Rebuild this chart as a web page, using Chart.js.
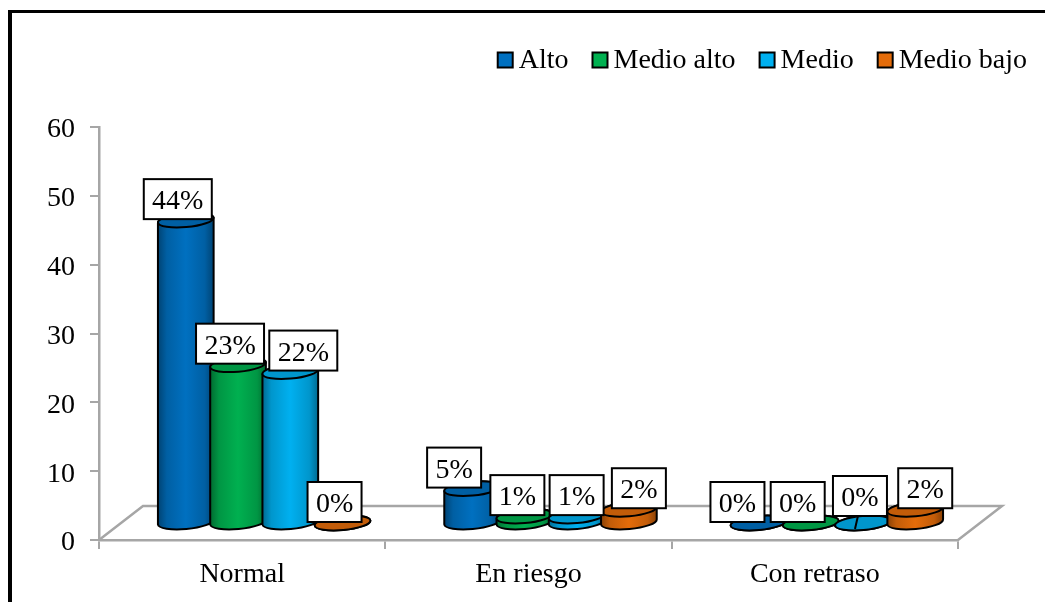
<!DOCTYPE html>
<html lang="es">
<head>
<meta charset="utf-8">
<title>Normal, En riesgo, Con retraso</title>
<script src="https://cdn.jsdelivr.net/npm/chart.js@4"></script>
<style>
  html, body { margin: 0; padding: 0; background: #fff; overflow: hidden; }
  #frame { position: absolute; left: 8px; top: 10px; right: 0; bottom: 0; border-top: 3px solid #000; border-left: 4px solid #000; }
  #chart { position: absolute; left: 0; top: 0; display: block; }
</style>
</head>
<body>
<div id="frame"></div>
<canvas id="chart" width="1045" height="602"></canvas>
<script>
const categories = ["Normal", "En riesgo", "Con retraso"];
const seriesNames = ["Alto", "Medio alto", "Medio", "Medio bajo"];
const alto = [44, 5, 0];
const medioAlto = [23, 1, 0];
const medio = [22, 1, 0];
const medioBajo = [0, 2, 2];
const yTicks = [0, 10, 20, 30, 40, 50, 60];
const colors = ["#0070C0", "#00B050", "#00B0F0", "#E46C0A"];

const FONT = '"Liberation Serif", "Times New Roman", serif';
const FONT_SIZE = 28;
const AXIS_GREY = "#A6A6A6";
// the fake 3D floor: how far the back edge sits from the front edge
const DEPTH_X = 44;
const DEPTH_Y = 34;
const ELLIPSE_B = 7;
const TILT = -0.09;
// label boxes were moved by hand in the original, [dx, dy, leader line] per series then category
const labelNudge = [
  [[-8, -21], [-18, -21], [-21, -21]],
  [[-8, -21], [-7, -21], [-13, -21]],
  [[13, -21], [0, -21], [-3, -27, true]],
  [[-8, -21], [10, -21], [10, -21]],
];

function shade(hex, factor) {
  const n = parseInt(hex.slice(1), 16);
  const r = Math.round(((n >> 16) & 255) * factor);
  const g = Math.round(((n >> 8) & 255) * factor);
  const b = Math.round((n & 255) * factor);
  return `rgb(${r}, ${g}, ${b})`;
}

function drawCylinder(ctx, bar, color) {
  const cx = bar.x + DEPTH_X / 2;
  const top = bar.y - DEPTH_Y / 2;
  const bottom = bar.base - DEPTH_Y / 2;
  const a = bar.width / 2;
  const dx = a * Math.cos(TILT);
  const dy = a * Math.sin(TILT);

  const grad = ctx.createLinearGradient(cx - a, 0, cx + a, 0);
  grad.addColorStop(0, shade(color, 0.6));
  grad.addColorStop(0.16, shade(color, 0.85));
  grad.addColorStop(0.5, color);
  grad.addColorStop(0.84, shade(color, 0.85));
  grad.addColorStop(1, shade(color, 0.6));

  ctx.save();
  ctx.lineWidth = 2;
  ctx.strokeStyle = "#000";
  ctx.beginPath();
  ctx.moveTo(cx - dx, top - dy);
  ctx.lineTo(cx - dx, bottom - dy);
  ctx.ellipse(cx, bottom, a, ELLIPSE_B, TILT, Math.PI, 0, true);
  ctx.lineTo(cx + dx, top + dy);
  ctx.ellipse(cx, top, a, ELLIPSE_B, TILT, 0, Math.PI, true);
  ctx.closePath();
  ctx.fillStyle = grad;
  ctx.fill();
  ctx.stroke();

  ctx.beginPath();
  ctx.ellipse(cx, top, a, ELLIPSE_B, TILT, 0, Math.PI * 2);
  ctx.fillStyle = shade(color, 0.85);
  ctx.fill();
  ctx.stroke();
  ctx.restore();
}

function drawLabel(ctx, bar, text, nudge) {
  const w = text.length > 2 ? 68 : 54;
  const h = 40;
  const cx = bar.x + DEPTH_X / 2 + nudge[0];
  const cy = bar.y - DEPTH_Y / 2 + nudge[1];
  ctx.save();
  ctx.strokeStyle = "#000";
  ctx.lineWidth = 2;
  if (nudge[2]) {
    ctx.beginPath();
    ctx.moveTo(cx - 2, cy + h / 2);
    ctx.lineTo(cx - 5, cy + h / 2 + 13);
    ctx.stroke();
  }
  ctx.fillStyle = "#fff";
  ctx.fillRect(cx - w / 2, cy - h / 2, w, h);
  ctx.strokeRect(cx - w / 2, cy - h / 2, w, h);
  ctx.fillStyle = "#000";
  ctx.font = `${FONT_SIZE}px ${FONT}`;
  ctx.textAlign = "center";
  ctx.textBaseline = "alphabetic";
  ctx.fillText(text, cx, cy + 10);
  ctx.restore();
}

// the stock legend puts half a font size between box and text, this one is tighter
function drawLegend(chart) {
  const ctx = chart.ctx;
  const box = 15;
  ctx.save();
  ctx.font = `${FONT_SIZE}px ${FONT}`;
  ctx.textBaseline = "alphabetic";
  ctx.textAlign = "left";
  let x = 1027;
  for (let i = chart.data.datasets.length - 1; i >= 0; i--) {
    const ds = chart.data.datasets[i];
    x -= ctx.measureText(ds.label).width;
    ctx.fillStyle = "#000";
    ctx.fillText(ds.label, x, 68);
    x -= 6 + box;
    ctx.fillStyle = ds.backgroundColor;
    ctx.lineWidth = 2;
    ctx.strokeStyle = "#000";
    ctx.fillRect(x, 52.5, box, box);
    ctx.strokeRect(x, 52.5, box, box);
    x -= 24;
  }
  ctx.restore();
}

const cylinders = {
  id: "cylinders",
  beforeDatasetsDraw(chart) {
    const { ctx, chartArea } = chart;
    const { left, right, bottom } = chartArea;
    ctx.save();
    ctx.strokeStyle = AXIS_GREY;
    ctx.lineWidth = 2.5;
    ctx.beginPath();
    ctx.moveTo(left, bottom);
    ctx.lineTo(left + DEPTH_X, bottom - DEPTH_Y);
    ctx.lineTo(right + DEPTH_X, bottom - DEPTH_Y);
    ctx.lineTo(right, bottom);
    ctx.stroke();
    ctx.restore();
  },
  // native flat bars are skipped, the cylinders below use their geometry
  beforeDatasetDraw() {
    return false;
  },
  afterDatasetsDraw(chart) {
    const { ctx, data } = chart;
    categories.forEach((_, c) => {
      data.datasets.forEach((ds, s) => {
        drawCylinder(ctx, chart.getDatasetMeta(s).data[c], ds.backgroundColor);
      });
    });
    data.datasets.forEach((ds, s) => {
      chart.getDatasetMeta(s).data.forEach((bar, c) => {
        drawLabel(ctx, bar, `${ds.data[c]}%`, labelNudge[s][c]);
      });
    });
    drawLegend(chart);
  },
};

const seriesValues = [alto, medioAlto, medio, medioBajo];

new Chart(document.getElementById("chart"), {
  type: "bar",
  data: {
    labels: categories,
    datasets: seriesNames.map((name, i) => ({
      label: name,
      data: seriesValues[i],
      backgroundColor: colors[i],
      categoryPercentage: 0.73,
      barPercentage: 1.07,
    })),
  },
  options: {
    responsive: false,
    animation: false,
    layout: { padding: { top: 127, right: 87, left: 0, bottom: 0 } },
    plugins: {
      legend: { display: false },
      tooltip: { enabled: false },
    },
    scales: {
      x: {
        afterFit: (scale) => { scale.height = 62; },
        border: { color: AXIS_GREY, width: 2.5 },
        grid: { drawOnChartArea: false, color: AXIS_GREY, lineWidth: 2, tickLength: 9 },
        ticks: { color: "#000", font: { family: FONT, size: FONT_SIZE }, padding: 9, maxRotation: 0 },
      },
      y: {
        min: yTicks[0],
        max: yTicks[yTicks.length - 1],
        afterFit: (scale) => { scale.width = 99; },
        border: { color: AXIS_GREY, width: 2.5 },
        grid: { drawOnChartArea: false, color: AXIS_GREY, lineWidth: 2, tickLength: 9 },
        ticks: { stepSize: yTicks[1] - yTicks[0], color: "#000", font: { family: FONT, size: FONT_SIZE }, padding: 15, labelOffset: 3 },
      },
    },
  },
  plugins: [cylinders],
});
</script>
</body>
</html>
